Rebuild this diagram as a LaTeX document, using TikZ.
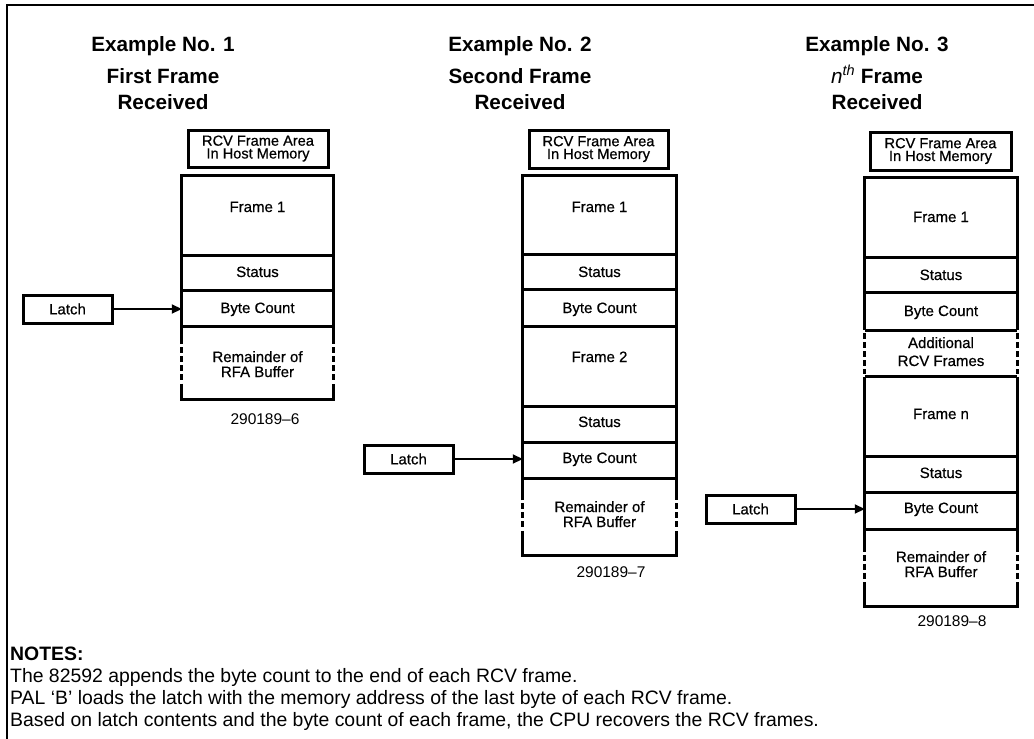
\documentclass[tikz,border=0pt]{standalone}
\usepackage{fontspec}
\setmainfont{Liberation Sans}
\newfontfamily\plotfont[FakeBold=0.6]{Liberation Sans}
\usetikzlibrary{arrows.meta}
\begin{document}
\begin{tikzpicture}[x=1pt,y=-1pt,
  frameline/.style={line width=1.8pt},
  wall/.style={line width=3pt},
  dwall/.style={line width=3pt, dash pattern=on 6pt off 3pt},
  cell/.style={rectangle, draw=none, inner sep=0pt, minimum width=#1, anchor=north},
  hdr/.style={font=\bfseries\fontsize{20.7}{24}\selectfont, anchor=base, inner sep=0pt},
  lbl/.style={font=\plotfont\fontsize{15}{15}\selectfont, anchor=base, inner sep=0pt},
  rcvbox/.style={draw, line width=3pt, inner sep=0pt, align=center, font=\plotfont\fontsize{14.6}{12.8}\selectfont},
  latchbox/.style={draw, line width=3pt, inner sep=0pt, minimum width=89pt, minimum height=28pt, font=\plotfont\fontsize{15}{15}\selectfont},
  ptr/.style={line width=1.8pt, -{Triangle[length=10pt,width=9pt]}},
  figno/.style={font=\fontsize{15.5}{15.5}\selectfont, anchor=base, inner sep=0pt},
  note/.style={font=\fontsize{19.4}{22}\selectfont, anchor=base west, inner sep=0pt},
]
\useasboundingbox (0,0) rectangle (1034,739);
\fill[white] (0,0) rectangle (1034,739);
\coordinate (ftr) at (1034,5);
\coordinate (ftl) at (7,5);
\coordinate (fbl) at (7,739);
\draw[frameline] (ftr) -- (ftl) -- (fbl);

% ---------------- Column 1 ----------------
\node[hdr] (h1a) at (163,51) {Example No. 1};
\node[hdr] (h1b) at (163,83) {First Frame};
\node[hdr] (h1c) at (163,109) {Received};
\node[rcvbox, minimum width=140pt, minimum height=37pt] (r1) at (258,148.5) {RCV Frame Area\\In Host Memory};
\node[cell=151pt, minimum height=80pt] (a1) at (257.5,175) {};
\node[cell=151pt, minimum height=35pt] (a2) at (a1.south) {};
\node[cell=151pt, minimum height=35pt] (a3) at (a2.south) {};
\node[cell=151pt, minimum height=73pt] (a4) at (a3.south) {};
\draw[wall] ([yshift=-18pt]a4.north west) -- (a1.north west) -- (a1.north east) -- ([yshift=-18pt]a4.north east);
\draw[wall] ([yshift=16pt]a4.south west) -- (a4.south west) -- (a4.south east) -- ([yshift=16pt]a4.south east);
\draw[dwall] ([yshift=-21pt]a4.north west) -- ([yshift=19pt]a4.south west);
\draw[dwall] ([yshift=-21pt]a4.north east) -- ([yshift=19pt]a4.south east);
\foreach \c in {a1,a2,a3} \draw[wall] (\c.south west) -- (\c.south east);
\node[lbl] (ta1) at (257.5,212) {Frame 1};
\node[lbl] (ta2) at (257.5,277) {Status};
\node[lbl] (ta3) at (257.5,313) {Byte Count};
\node[lbl] (ta4) at (257.5,362) {Remainder of};
\node[lbl] (ta5) at (257.5,377) {RFA Buffer};
\node[latchbox] (l1) at (67.5,309) {Latch};
\draw[ptr] (l1.east) -- (l1.east -| a3.west);
\node[figno] (f1) at (265,424) {290189–6};

% ---------------- Column 2 ----------------
\node[hdr] (h2a) at (520,51) {Example No. 2};
\node[hdr] (h2b) at (520,83) {Second Frame};
\node[hdr] (h2c) at (520,109) {Received};
\node[rcvbox, minimum width=139pt, minimum height=38pt] (r2) at (598.5,149) {RCV Frame Area\\In Host Memory};
\node[cell=153pt, minimum height=79pt] (b1) at (599.5,175) {};
\node[cell=153pt, minimum height=35pt] (b2) at (b1.south) {};
\node[cell=153pt, minimum height=36pt] (b3) at (b2.south) {};
\node[cell=153pt, minimum height=80pt] (b4) at (b3.south) {};
\node[cell=153pt, minimum height=35pt] (b5) at (b4.south) {};
\node[cell=153pt, minimum height=36pt] (b6) at (b5.south) {};
\node[cell=153pt, minimum height=77pt] (b7) at (b6.south) {};
\draw[wall] ([yshift=-22pt]b7.north west) -- (b1.north west) -- (b1.north east) -- ([yshift=-22pt]b7.north east);
\draw[wall] ([yshift=25pt]b7.south west) -- (b7.south west) -- (b7.south east) -- ([yshift=25pt]b7.south east);
\draw[dwall] ([yshift=-25pt]b7.north west) -- ([yshift=28pt]b7.south west);
\draw[dwall] ([yshift=-25pt]b7.north east) -- ([yshift=28pt]b7.south east);
\foreach \c in {b1,b2,b3,b4,b5,b6} \draw[wall] (\c.south west) -- (\c.south east);
\node[lbl] (tb1) at (599.5,212) {Frame 1};
\node[lbl] (tb2) at (599.5,277) {Status};
\node[lbl] (tb3) at (599.5,313) {Byte Count};
\node[lbl] (tb4) at (599.5,362) {Frame 2};
\node[lbl] (tb5) at (599.5,427) {Status};
\node[lbl] (tb6) at (599.5,463) {Byte Count};
\node[lbl] (tb7) at (599.5,512) {Remainder of};
\node[lbl] (tb8) at (599.5,527) {RFA Buffer};
\node[latchbox] (l2) at (408.5,459) {Latch};
\draw[ptr] (l2.east) -- (l2.east -| b6.west);
\node[figno] (f2) at (611,577) {290189–7};

% ---------------- Column 3 ----------------
\node[hdr] (h3a) at (877,51) {Example No. 3};
\node[hdr] (h3b) at (877,83) {{\itshape\mdseries n\textsuperscript{th}} Frame};
\node[hdr] (h3c) at (877,109) {Received};
\node[rcvbox, minimum width=141pt, minimum height=38pt] (r3) at (940.5,151) {RCV Frame Area\\In Host Memory};
\node[cell=152pt, minimum height=80pt] (c1) at (941,177) {};
\node[cell=152pt, minimum height=35pt] (c2) at (c1.south) {};
\node[cell=152pt, minimum height=37pt] (c3) at (c2.south) {};
\node[cell=152pt, minimum height=46pt] (c4) at (c3.south) {};
\node[cell=152pt, minimum height=79pt] (c5) at (c4.south) {};
\node[cell=152pt, minimum height=36pt] (c6) at (c5.south) {};
\node[cell=152pt, minimum height=37pt] (c7) at (c6.south) {};
\node[cell=152pt, minimum height=76pt] (c8) at (c7.south) {};
\draw[wall] (c3.south west) -- (c1.north west) -- (c1.north east) -- (c3.south east);
\draw[dwall] ([yshift=-3pt]c4.north west) -- ([yshift=3pt]c4.south west);
\draw[dwall] ([yshift=-3pt]c4.north east) -- ([yshift=3pt]c4.south east);
\draw[wall] (c5.north west) -- ([yshift=-22pt]c8.north west);
\draw[wall] (c5.north east) -- ([yshift=-22pt]c8.north east);
\draw[wall] ([yshift=24pt]c8.south west) -- (c8.south west) -- (c8.south east) -- ([yshift=24pt]c8.south east);
\draw[dwall] ([yshift=-25pt]c8.north west) -- ([yshift=27pt]c8.south west);
\draw[dwall] ([yshift=-25pt]c8.north east) -- ([yshift=27pt]c8.south east);
\foreach \c in {c1,c2,c3,c4,c5,c6,c7} \draw[wall] (\c.south west) -- (\c.south east);
\node[lbl] (tc1) at (941,222) {Frame 1};
\node[lbl] (tc2) at (941,280) {Status};
\node[lbl] (tc3) at (941,316) {Byte Count};
\node[lbl] (tc4) at (941,348) {Additional};
\node[lbl] (tc5) at (941,366) {RCV Frames};
\node[lbl] (tc6) at (941,419) {Frame n};
\node[lbl] (tc7) at (941,478) {Status};
\node[lbl] (tc8) at (941,513) {Byte Count};
\node[lbl] (tc9) at (941,562) {Remainder of};
\node[lbl] (tc10) at (941,577) {RFA Buffer};
\node[latchbox] (l3) at (750.5,509) {Latch};
\draw[ptr] (l3.east) -- (l3.east -| c7.west);
\node[figno] (f3) at (952,626) {290189–8};

% ---------------- Notes ----------------
\node[note] (n0) at (10,660) {\textbf{NOTES:}};
\node[note] (n1) at (10,682) {The 82592 appends the byte count to the end of each RCV frame.};
\node[note] (n2) at (10,704) {PAL ‘B’ loads the latch with the memory address of the last byte of each RCV frame.};
\node[note] (n3) at (10,726) {Based on latch contents and the byte count of each frame, the CPU recovers the RCV frames.};
\end{tikzpicture}
\end{document}
